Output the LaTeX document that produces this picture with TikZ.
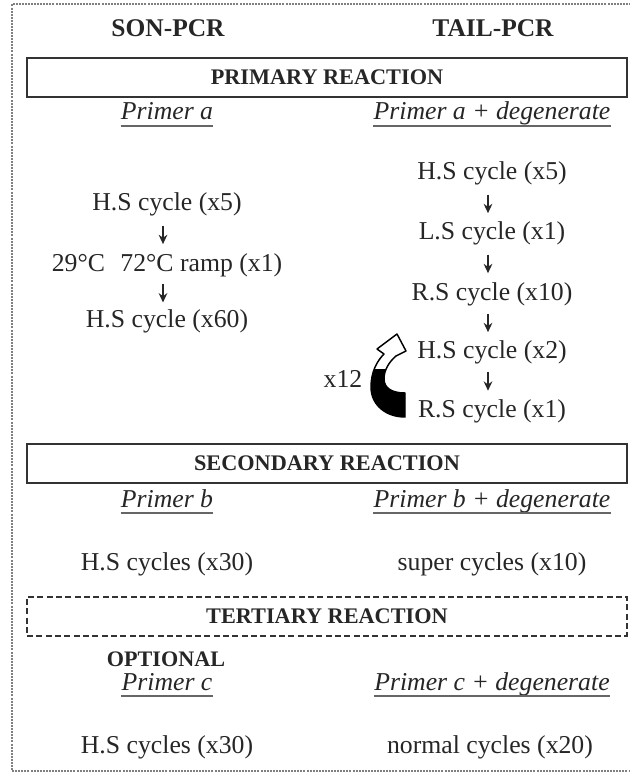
\documentclass[tikz,border=0pt]{standalone}
\usepackage{fontspec}
\setmainfont{Liberation Serif}
\usetikzlibrary{arrows.meta}
\begin{document}
\begin{tikzpicture}[x=0.75pt,y=-0.75pt,
  txt/.style={anchor=base, inner sep=0pt, text=black!85, font=\fontsize{19.3}{23}\selectfont},
  hd/.style={anchor=base, inner sep=0pt, text=black!85, font=\fontsize{19.1}{23}\selectfont\bfseries},
  opthd/.style={anchor=base, inner sep=0pt, text=black!85, font=\fontsize{16.6}{20}\selectfont\bfseries},
  prm/.style={anchor=base, inner sep=0pt, text=black!85, font=\fontsize{19.3}{23}\selectfont\itshape},
  rbox/.style={draw=black!80, line width=1.9pt, minimum width=450pt, minimum height=29.25pt, inner sep=0pt, text=black!85, font=\fontsize{16.7}{20}\selectfont\bfseries},
  dbox/.style={rbox, line width=1.5pt, dash pattern=on 4.5pt off 2.5pt},
  uline/.style={draw=black!60, line width=1.3pt},
  downarr/.style={-{Stealth[length=7pt,width=6.5pt]}, line width=1.4pt, draw=black!85, shorten <=#1, shorten >=#1},
  outerframe/.style={draw=black!50, line width=0.9pt, dash pattern=on 1.5pt off 0.8pt}
]
\useasboundingbox (0,0) rectangle (630,773);
\draw[outerframe] (631,4) -- (12,4) -- (12,771) -- (631,771);

% headings
\node[hd] (son) at (168,37) {SON-PCR};
\node[hd] (tail) at (493,37) {TAIL-PCR};

% primary
\node[rbox] (prim) at (327,77.5) {PRIMARY REACTION};
\node[prm] (pa) at (167,120) {Primer a};
\node[prm] (pad) at (492,120) {Primer a + degenerate};
\draw[uline] ([yshift=-4.5pt]pa.base west) -- ([yshift=-4.5pt]pa.base east);
\draw[uline] ([yshift=-4.5pt]pad.base west) -- ([yshift=-4.5pt]pad.base east);

\node[txt] (l1) at (167,210.5) {H.S cycle (x5)};
\node[txt] (l2) at (167,271.5) {29°C\hspace{0.6em}72°C ramp (x1)};
\node[txt] (l3) at (167,327) {H.S cycle (x60)};
\draw[downarr=15.9pt] ([xshift=-3pt]l1.center) -- ([xshift=-3pt]l2.center);
\draw[downarr=13.8pt] ([xshift=-3pt]l2.center) -- ([xshift=-3pt]l3.center);

\node[txt] (r1) at (492,180) {H.S cycle (x5)};
\node[txt] (r2) at (492,240) {L.S cycle (x1)};
\node[txt] (r3) at (492,300) {R.S cycle (x10)};
\node[txt] (r4) at (492,358) {H.S cycle (x2)};
\node[txt] (r5) at (492,417) {R.S cycle (x1)};
\draw[downarr=15.5pt] ([xshift=-3pt]r1.center) -- ([xshift=-3pt]r2.center);
\draw[downarr=15.5pt] ([xshift=-3pt]r2.center) -- ([xshift=-3pt]r3.center);
\draw[downarr=14.75pt] ([xshift=-3pt]r3.center) -- ([xshift=-3pt]r4.center);
\draw[downarr=15.1pt] ([xshift=-3pt]r4.center) -- ([xshift=-3pt]r5.center);

\node[txt] (x12) at (343,387) {x12};
\def\loopshape{(405,417) .. controls (386,417) and (371,405) .. (371,387) .. controls (371,372) and (377,361) .. (384,354) -- (377,349) -- (397,334) -- (406,351) -- (396,356) .. controls (389,362) and (384,370) .. (384,379) .. controls (384,388) and (392,393) .. (405,393) -- cycle}
\filldraw[fill=white, draw=black, line width=1.1pt, line join=round] \loopshape;
\begin{scope}
\clip (360,369) rectangle (410,420);
\fill[black] \loopshape;
\end{scope}

% secondary
\node[rbox] (sec) at (327,463.5) {SECONDARY REACTION};
\node[prm] (pb) at (167,507) {Primer b};
\node[prm] (pbd) at (492,507) {Primer b + degenerate};
\draw[uline] ([yshift=-4.5pt]pb.base west) -- ([yshift=-4.5pt]pb.base east);
\draw[uline] ([yshift=-4.5pt]pbd.base west) -- ([yshift=-4.5pt]pbd.base east);
\node[txt] (s1) at (167,570) {H.S cycles (x30)};
\node[txt] (s2) at (492,570) {super cycles (x10)};

% tertiary
\node[dbox] (ter) at (327,616) {TERTIARY REACTION};
\node[opthd] (opt) at (166,666) {OPTIONAL};
\node[prm] (pc) at (167,690) {Primer c};
\node[prm] (pcd) at (492,690) {Primer c + degenerate};
\draw[uline] ([yshift=-4.5pt]pc.base west) -- ([yshift=-4.5pt]pc.base east);
\draw[uline] ([yshift=-4.5pt]pcd.base west) -- ([yshift=-4.5pt]pcd.base east);
\node[txt] (t1) at (167,753) {H.S cycles (x30)};
\node[txt] (t2) at (490,753) {normal cycles (x20)};
\end{tikzpicture}
\end{document}
